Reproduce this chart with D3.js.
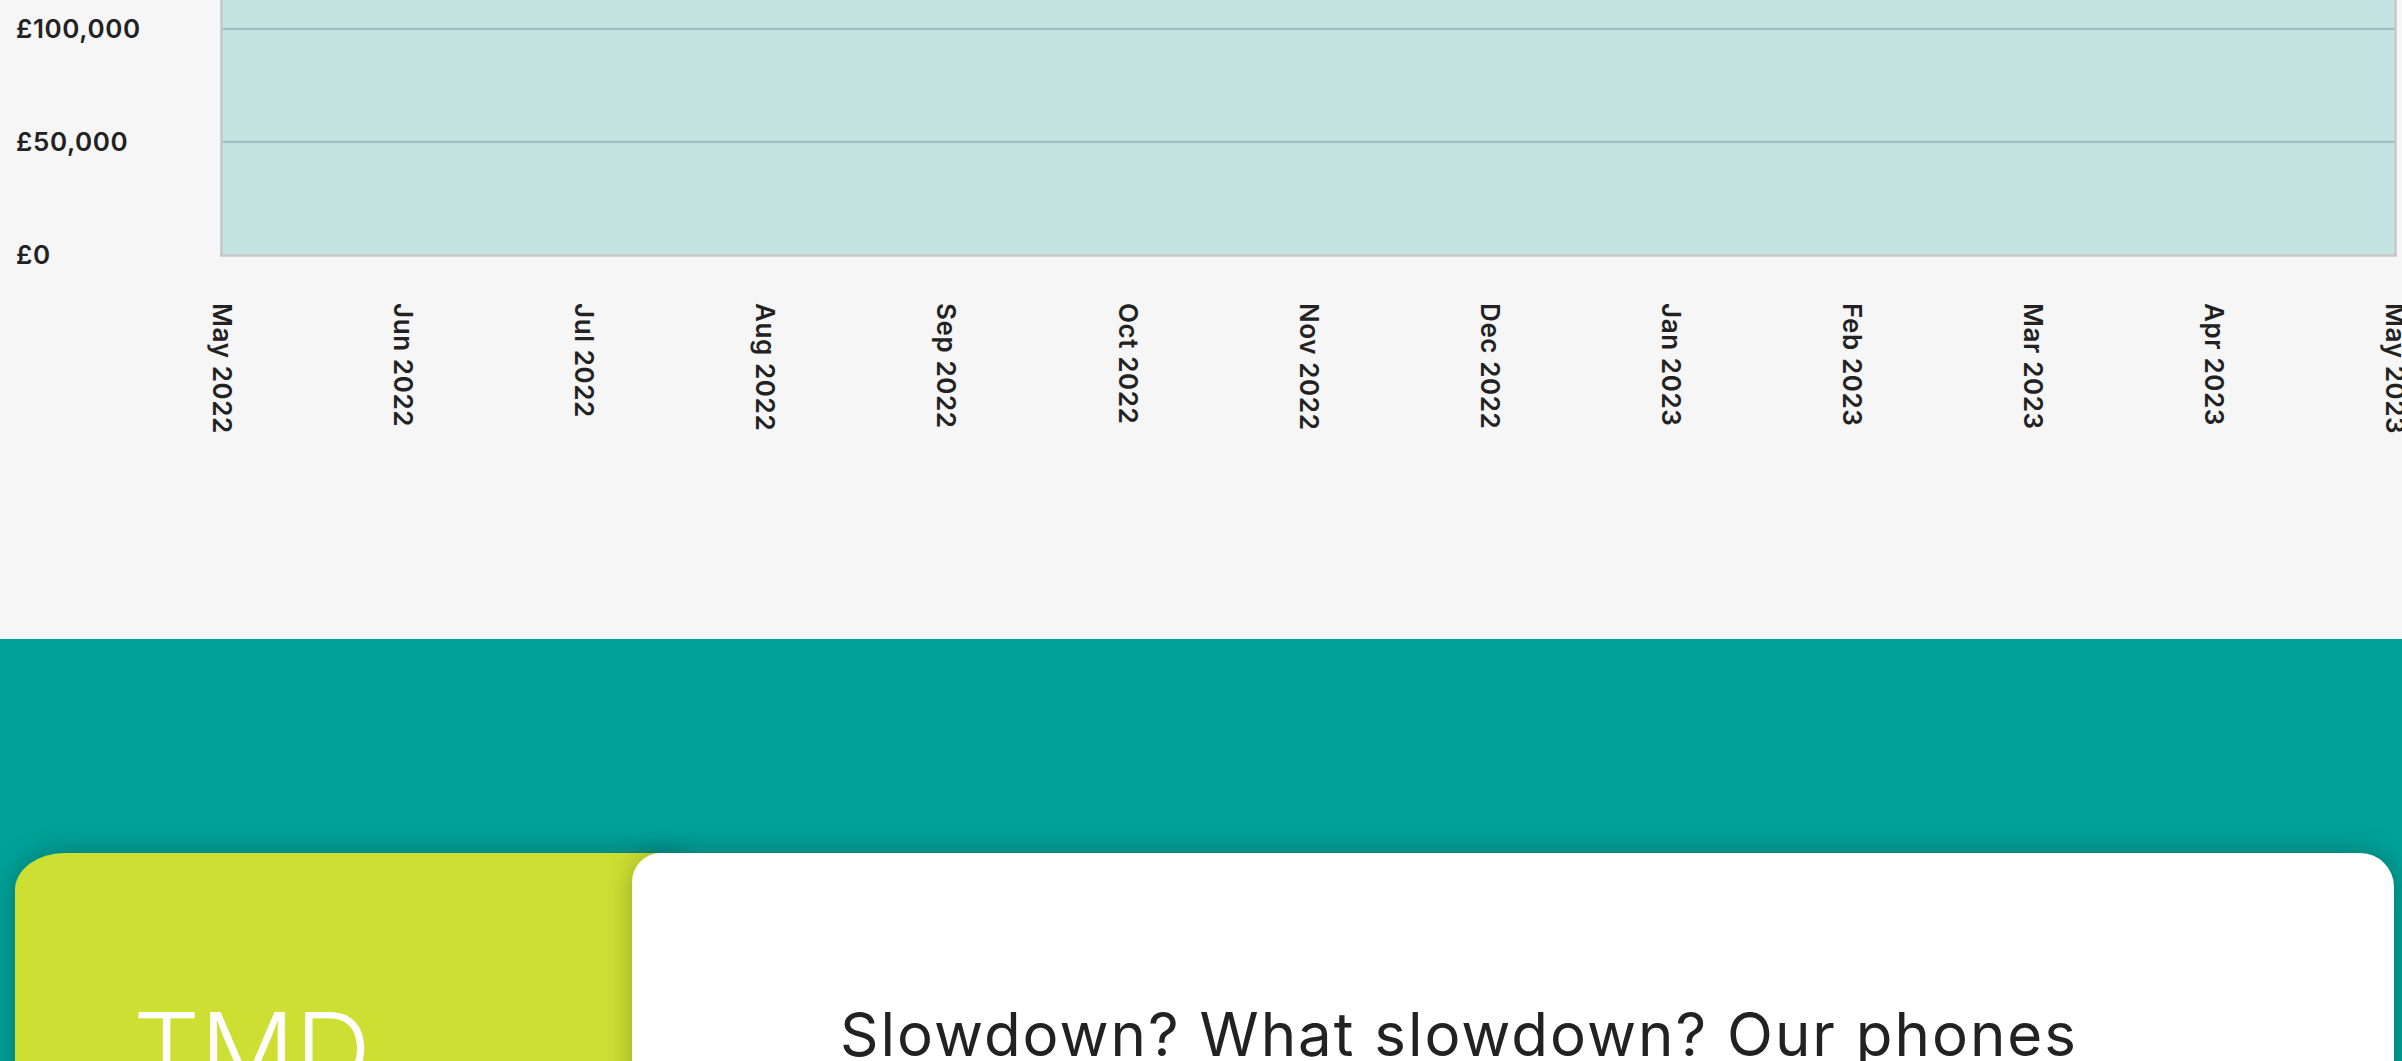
<!DOCTYPE html>
<html>
<head>
<meta charset="utf-8">
<script src="https://cdn.jsdelivr.net/npm/d3@7"></script>
<style>
  html, body { margin: 0; padding: 0; background: #f6f6f6; overflow: hidden; }
  svg { display: block; }
</style>
</head>
<body>
<svg id="page" width="2402" height="1061"></svg>
<script>
// ---- data ----
const months = ["May 2022","Jun 2022","Jul 2022","Aug 2022","Sep 2022","Oct 2022","Nov 2022",
                "Dec 2022","Jan 2023","Feb 2023","Mar 2023","Apr 2023","May 2023"];
// series values (top of filled area lies above the visible part of the page)
const revenue = [141000, 139000, 143000, 146000, 144000, 147000, 145000,
                 148000, 146000, 144000, 147000, 149000, 148000];
const yTickValues = [0, 50000, 100000, 150000];
const yTickLabels = ["£0", "£50,000", "£100,000", "£150,000"];
const cardTitle = "TMD";
const headline = "Slowdown? What slowdown? Our phones";

// ---- layout ----
const W = 2402, H = 1061;
const svg = d3.select("#page");
const defs = svg.append("defs");

const sh = defs.append("filter").attr("id", "cardShadow")
  .attr("x", "-10%").attr("y", "-30%").attr("width", "120%").attr("height", "160%");
sh.append("feGaussianBlur").attr("in", "SourceAlpha").attr("stdDeviation", 14).attr("result", "b");
sh.append("feComponentTransfer").attr("in", "b").attr("result", "s")
  .append("feFuncA").attr("type", "linear").attr("slope", 0.26);
const m = sh.append("feMerge");
m.append("feMergeNode").attr("in", "s");
m.append("feMergeNode").attr("in", "SourceGraphic");

// background sections
svg.append("rect").attr("x", 0).attr("y", 0).attr("width", W).attr("height", 639).attr("fill", "#f6f6f6");
svg.append("rect").attr("x", 0).attr("y", 639).attr("width", W).attr("height", H - 639).attr("fill", "#00a097");

// ---- chart ----
const x = d3.scalePoint().domain(months).range([222, 2395]);
const y = d3.scaleLinear().domain([0, 150000]).range([254.5, 254.5 - 3 * 113.1]);

defs.append("clipPath").attr("id", "plotClip").append("rect")
  .attr("x", 222).attr("y", y(150000)).attr("width", 2395 - 222).attr("height", 254.5 - y(150000));

const plot = svg.append("g").attr("clip-path", "url(#plotClip)");
const area = d3.area().x((d, i) => x(months[i])).y0(y(0)).y1(d => y(d));
plot.append("path").datum(revenue).attr("d", area).attr("fill", "#c4e4e2");

// gridlines via axis
const grid = svg.append("g").attr("transform", "translate(222,0)")
  .call(d3.axisLeft(y).tickValues(yTickValues.filter(v => v > 0)).tickSize(-(2395 - 222)).tickFormat(""));
grid.select(".domain").remove();
grid.selectAll(".tick line").attr("stroke", "#9dbfbe").attr("stroke-width", 2.2);

// frame
const frame = svg.append("g").attr("stroke", "#c6c6c6").attr("stroke-width", 2.5).attr("fill", "none");
frame.append("line").attr("x1", 221.5).attr("x2", 221.5).attr("y1", y(150000)).attr("y2", 255.5);
frame.append("line").attr("x1", 2395.5).attr("x2", 2395.5).attr("y1", y(150000)).attr("y2", 255.5);
frame.append("line").attr("x1", 220).attr("x2", 2397).attr("y1", 255.5).attr("y2", 255.5);

// y axis labels
const yAx = svg.append("g").attr("transform", "translate(16,0)")
  .call(d3.axisRight(y).tickValues(yTickValues).tickSize(0)
    .tickFormat(d => yTickLabels[yTickValues.indexOf(d)]));
yAx.select(".domain").remove();
yAx.selectAll("text")
  .attr("x", 0).attr("dy", "0.36em")
  .attr("fill", "#222").attr("font-family", "Inter, 'Open Sans', sans-serif")
  .attr("font-weight", 600).attr("font-size", 26).attr("letter-spacing", 0.6)
  .attr("text-anchor", "start");

// x axis labels (rotated 90deg)
const xAx = svg.append("g").attr("transform", "translate(0,255)")
  .call(d3.axisBottom(x).tickSize(0));
xAx.select(".domain").remove();
xAx.selectAll(".tick text")
  .attr("x", 0).attr("y", 0).attr("dy", "0.36em")
  .attr("transform", "translate(0,48) rotate(90)")
  .attr("text-anchor", "start")
  .attr("fill", "#222").attr("font-family", "Inter, 'Open Sans', sans-serif")
  .attr("font-weight", 600).attr("font-size", 26).attr("letter-spacing", 0.6);

// ---- cards ----
const gTop = 853, gx0 = 15, gx1 = 680, gb = 1120, grx = 50, gry = 37;
svg.append("path")
  .attr("d", `M${gx0},${gb} V${gTop + gry} A${grx},${gry} 0 0 1 ${gx0 + grx},${gTop} H${gx1} V${gb} Z`)
  .attr("fill", "#cddf33").attr("filter", "url(#cardShadow)");

const wx0 = 632, wx1 = 2394, wr0 = 29, wr1 = 34;
svg.append("path")
  .attr("d", `M${wx0},${gb} V${gTop + wr0} A${wr0},${wr0} 0 0 1 ${wx0 + wr0},${gTop} H${wx1 - wr1} A${wr1},${wr1} 0 0 1 ${wx1},${gTop + wr1} V${gb} Z`)
  .attr("fill", "#ffffff").attr("filter", "url(#cardShadow)");

svg.append("text").text(cardTitle)
  .attr("x", 133).attr("y", 1013 + 72)
  .attr("fill", "#ffffff").attr("font-family", "Inter, 'Open Sans', sans-serif")
  .attr("font-weight", 300).attr("font-size", 100)
  .attr("textLength", 238).attr("lengthAdjust", "spacingAndGlyphs");

svg.append("text").text(headline)
  .attr("x", 840).attr("y", 1056)
  .attr("fill", "#222").attr("font-family", "Inter, 'Open Sans', sans-serif")
  .attr("font-weight", 400).attr("font-size", 60)
  .attr("textLength", 1236).attr("lengthAdjust", "spacing");
</script>
</body>
</html>
